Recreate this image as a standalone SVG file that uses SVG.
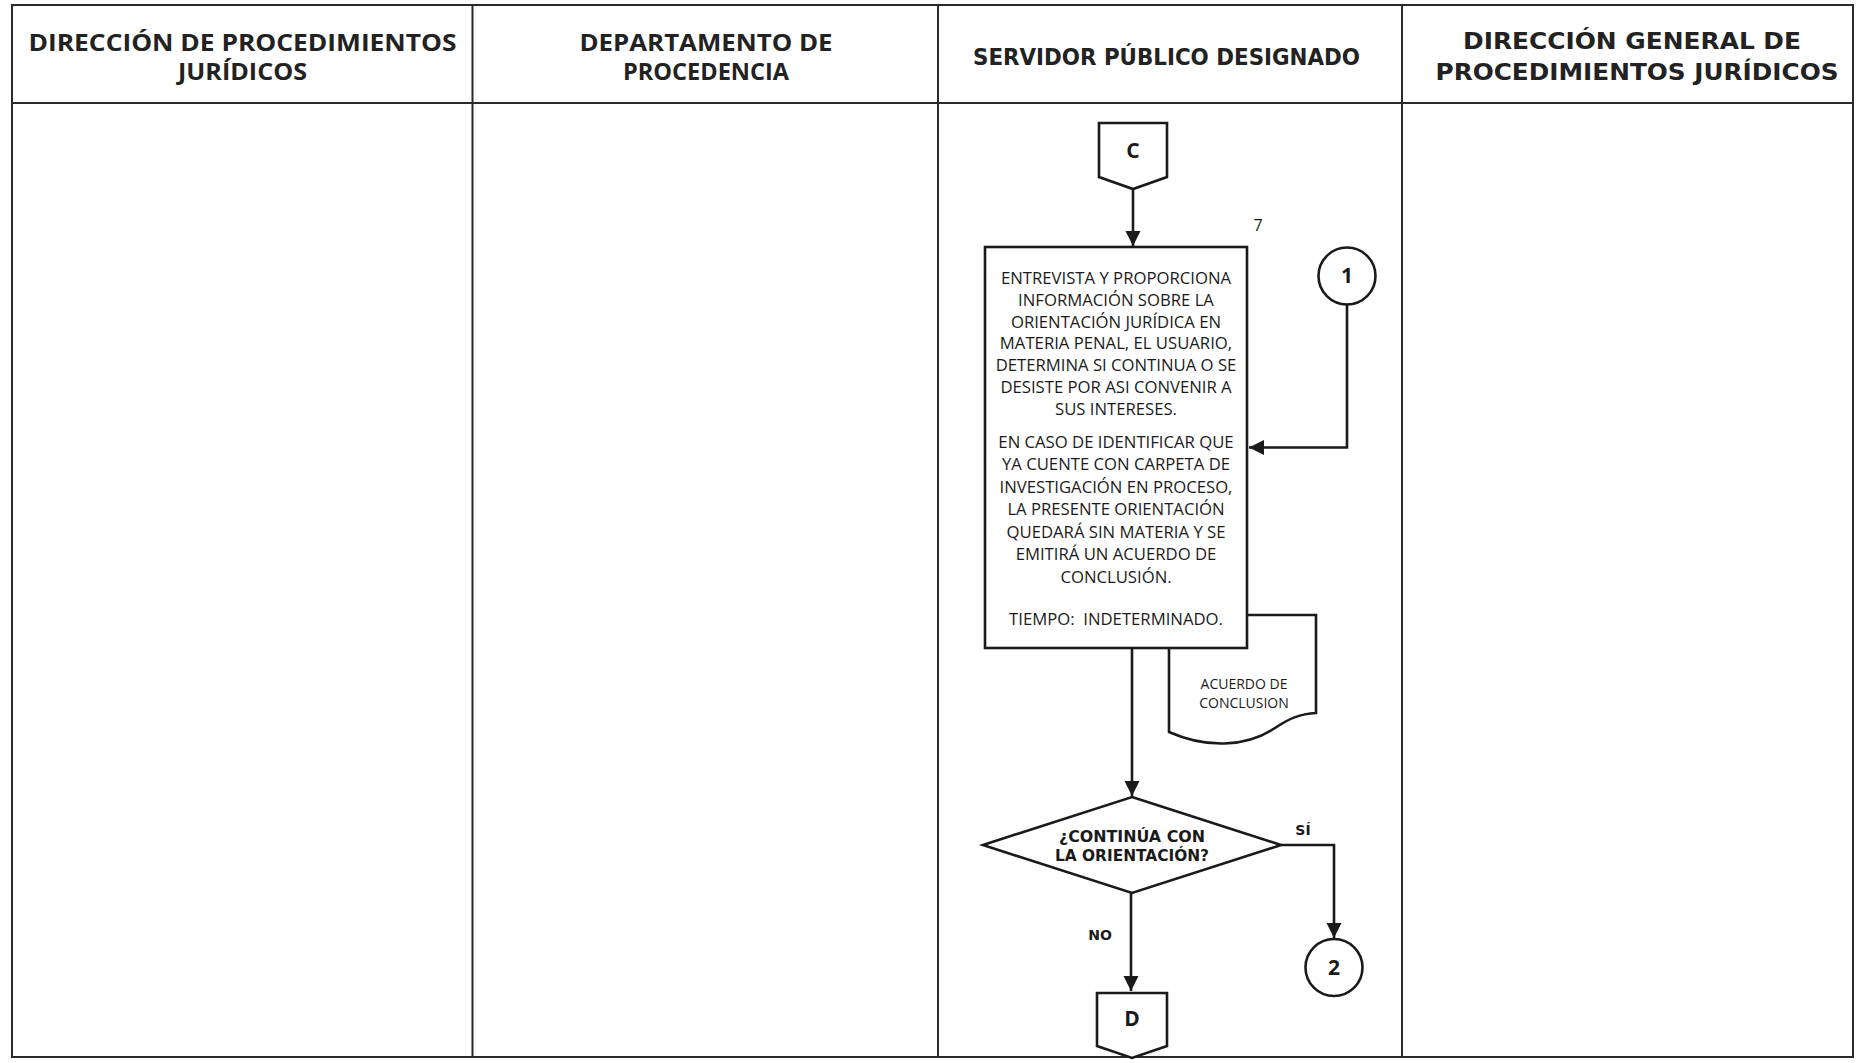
<svg xmlns="http://www.w3.org/2000/svg" width="1866" height="1063" viewBox="0 0 1866 1063">
<style>
.grid{stroke:#2b2b2b;stroke-width:2;fill:none}
.shape{stroke:#1a1a1a;stroke-width:2.6;fill:#fff}
.line{stroke:#1a1a1a;stroke-width:2.6;fill:none}
.h1{font-family:"Open Sans","Noto Sans",sans-serif;font-weight:700;font-size:23.5px;fill:#222;text-anchor:middle}
.h2{font-family:"DejaVu Sans","Liberation Sans",sans-serif;font-weight:700;font-size:23px;fill:#222;text-anchor:middle}
.body{font-family:"Open Sans","Noto Sans",sans-serif;font-size:16.7px;fill:#1a1a1a;text-anchor:middle}
.small{font-family:"Open Sans","Noto Sans",sans-serif;font-size:14px;fill:#1a1a1a;text-anchor:middle}
.lbl{font-family:"DejaVu Sans","Liberation Sans",sans-serif;font-weight:700;font-size:14px;fill:#1a1a1a;text-anchor:middle}
.con{font-family:"Open Sans","Noto Sans",sans-serif;font-weight:700;font-size:21px;fill:#1a1a1a;text-anchor:middle}
</style>
<defs>
<marker id="arr" viewBox="0 0 10 10" refX="10" refY="5" markerWidth="5.8" markerHeight="5.8" markerUnits="strokeWidth" orient="auto">
<path d="M0,0 L10,5 L0,10 Z" fill="#1a1a1a"/>
</marker>
</defs>
<rect width="1866" height="1063" fill="#fff"/>
<g id="table">
<rect class="grid" x="12" y="5" width="1841" height="1052"/>
<line class="grid" x1="12" y1="103" x2="1853" y2="103"/>
<line class="grid" x1="472.5" y1="5" x2="472.5" y2="1057"/>
<line class="grid" x1="938" y1="5" x2="938" y2="1057"/>
<line class="grid" x1="1402" y1="5" x2="1402" y2="1057"/>
<text class="h1" x="242.5" y="51" textLength="428" lengthAdjust="spacingAndGlyphs">DIRECCIÓN DE PROCEDIMIENTOS</text>
<text class="h1" x="242.5" y="80" textLength="129" lengthAdjust="spacingAndGlyphs">JURÍDICOS</text>
<text class="h1" x="706" y="51" textLength="253" lengthAdjust="spacingAndGlyphs">DEPARTAMENTO DE</text>
<text class="h1" x="706" y="80" textLength="166" lengthAdjust="spacingAndGlyphs">PROCEDENCIA</text>
<text class="h2" x="1166.5" y="64.5" textLength="387" lengthAdjust="spacingAndGlyphs">SERVIDOR PÚBLICO DESIGNADO</text>
<text class="h2" x="1632" y="48.5" textLength="338" lengthAdjust="spacingAndGlyphs">DIRECCIÓN GENERAL DE</text>
<text class="h2" x="1637" y="79.5" textLength="403" lengthAdjust="spacingAndGlyphs">PROCEDIMIENTOS JURÍDICOS</text>
</g>
<g id="connectors">
<line class="line" x1="1133" y1="189" x2="1133" y2="246" marker-end="url(#arr)"/>
<polyline class="line" points="1347,304.5 1347,447.5 1249,447.5" marker-end="url(#arr)"/>
<line class="line" x1="1132" y1="648" x2="1132" y2="796" marker-end="url(#arr)"/>
<polyline class="line" points="1281,845 1334,845 1334,938" marker-end="url(#arr)"/>
<line class="line" x1="1131" y1="893" x2="1131" y2="991" marker-end="url(#arr)"/>
<text class="lbl" x="1303" y="835">SÍ</text>
<text class="lbl" x="1100" y="940">NO</text>
</g>
<g id="node-doc">
<path class="shape" d="M1169,615 L1316,615 L1316,713 C1300,714 1290,718 1275,728 C1245,748 1205,748 1169,732 Z"/>
<text class="small" x="1244" y="689">ACUERDO DE</text>
<text class="small" x="1244" y="708">CONCLUSION</text>
</g>
<g id="node-c">
<path class="shape" d="M1099,123 L1167,123 L1167,177 L1133,189 L1099,177 Z"/>
<text class="con" x="1133" y="158">C</text>
</g>
<g id="node-7">
<rect class="shape" x="985" y="247" width="262" height="401"/>
<text class="small" x="1258" y="231" style="font-size:16px">7</text>
<g class="body">
<text x="1116" y="284">ENTREVISTA Y PROPORCIONA</text>
<text x="1116" y="306">INFORMACIÓN SOBRE LA</text>
<text x="1116" y="327.5">ORIENTACIÓN JURÍDICA EN</text>
<text x="1116" y="349">MATERIA PENAL, EL USUARIO,</text>
<text x="1116" y="371">DETERMINA SI CONTINUA O SE</text>
<text x="1116" y="393">DESISTE POR ASI CONVENIR A</text>
<text x="1116" y="415">SUS INTERESES.</text>
<text x="1116" y="448">EN CASO DE IDENTIFICAR QUE</text>
<text x="1116" y="470">YA CUENTE CON CARPETA DE</text>
<text x="1116" y="492.5">INVESTIGACIÓN EN PROCESO,</text>
<text x="1116" y="515">LA PRESENTE ORIENTACIÓN</text>
<text x="1116" y="537.5">QUEDARÁ SIN MATERIA Y SE</text>
<text x="1116" y="560">EMITIRÁ UN ACUERDO DE</text>
<text x="1116" y="582.5">CONCLUSIÓN.</text>
<text x="1116" y="625" xml:space="preserve">TIEMPO:  INDETERMINADO.</text>
</g>
</g>
<g id="node-1">
<circle class="shape" cx="1347" cy="276" r="28.5"/>
<text class="con" x="1347" y="283">1</text>
</g>
<g id="node-decision">
<polygon class="shape" points="1132,797 1281,845 1132,893 983,845"/>
<text class="lbl" x="1132" y="842" style="font-size:15.5px" textLength="146" lengthAdjust="spacingAndGlyphs">¿CONTINÚA CON</text>
<text class="lbl" x="1132" y="861" style="font-size:15.5px" textLength="154" lengthAdjust="spacingAndGlyphs">LA ORIENTACIÓN?</text>
</g>
<g id="node-2">
<circle class="shape" cx="1334" cy="967.5" r="28.5"/>
<text class="con" x="1334" y="975">2</text>
</g>
<g id="node-d">
<path class="shape" d="M1097,993 L1167,993 L1167,1046 L1132,1058 L1097,1046 Z"/>
<text class="con" x="1132" y="1026">D</text>
</g>
</svg>
